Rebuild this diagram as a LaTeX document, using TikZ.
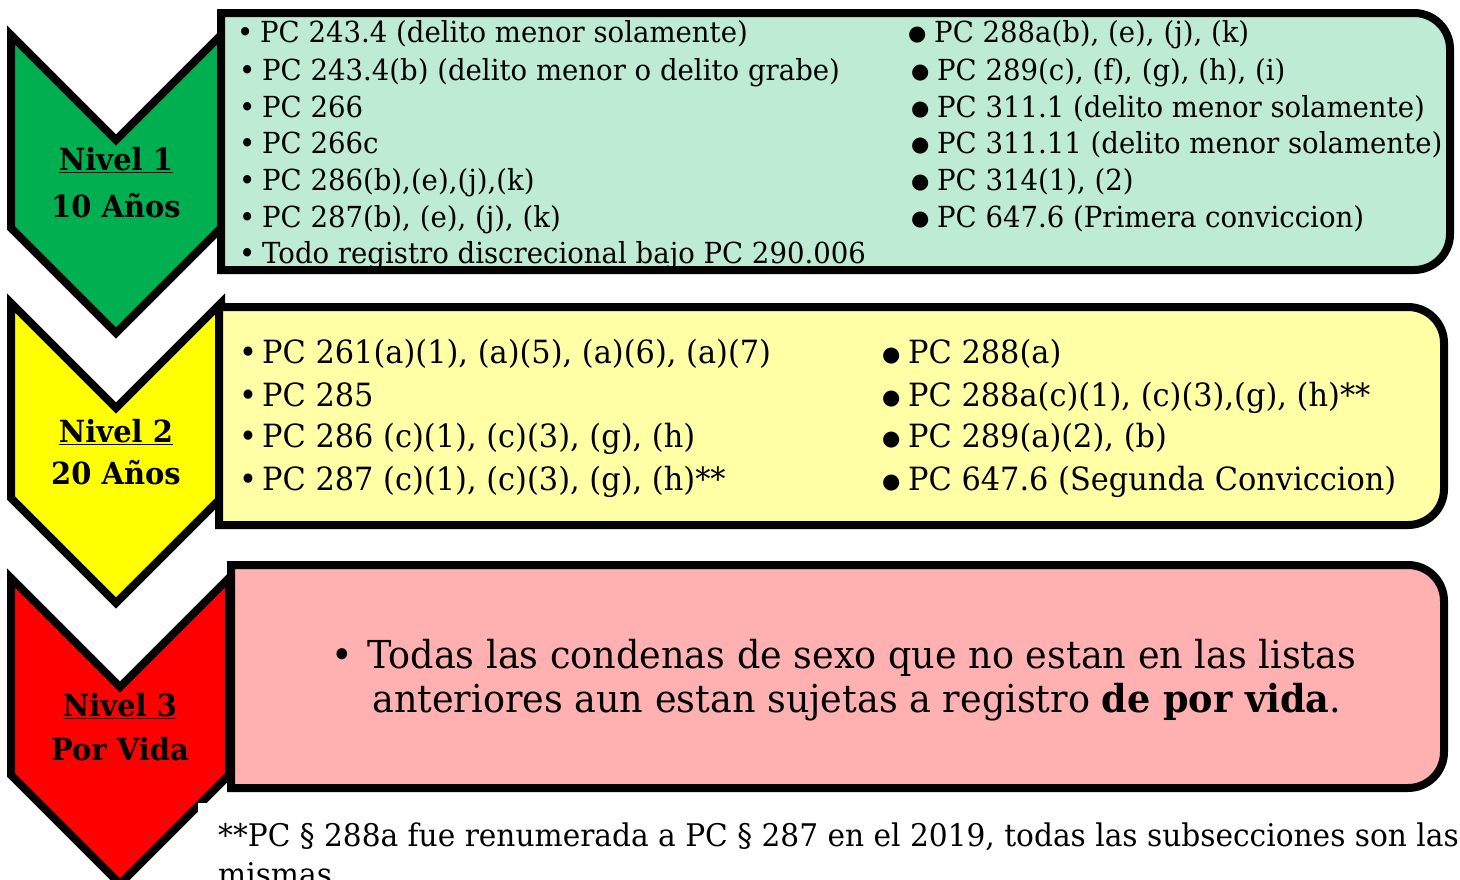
\documentclass[tikz,border=0pt]{standalone}
\usepackage{fontspec}
\setmainfont[FakeStretch=0.95]{DejaVu Serif}
\newfontfamily\bulletfont{DejaVu Sans}
\definecolor{gdark}{HTML}{00B050}
\definecolor{glight}{HTML}{BDEBD3}
\definecolor{ydark}{HTML}{FFFF00}
\definecolor{ylight}{HTML}{FFFFA5}
\definecolor{rdark}{HTML}{FF0000}
\definecolor{rlight}{HTML}{FFB0B0}
\newcommand{\bA}{\makebox[23pt][l]{•}}
\newcommand{\bB}{\makebox[26pt][l]{\raisebox{1.5pt}{\bulletfont\fontsize{21}{21}\selectfont ●}}}
\begin{document}
\begin{tikzpicture}[x=1pt,y=-1pt,line join=miter,
  chev/.style={draw=black,line width=8pt,miter limit=10},
  boxs/.style={draw=black,line width=8pt},
  txt/.style={anchor=base west,inner sep=0pt,font=\fontsize{29}{34}\selectfont},
  ytxt/.style={anchor=base west,inner sep=0pt,font=\fontsize{32}{36}\selectfont},
  big/.style={anchor=base west,inner sep=0pt,font=\fontsize{38.5}{44}\selectfont},
  foot/.style={anchor=base west,inner sep=0pt,font=\fontsize{31.2}{36}\selectfont},
  lbl/.style={anchor=base,inner sep=0pt,font=\fontsize{30.5}{34}\selectfont\bfseries}]
\useasboundingbox (0,0) rectangle (1460,879);
\fill[white] (0,0) rectangle (1460,879);
% chevrons
\draw[chev,fill=gdark] (11,35) -- (116,140) -- (221,35) -- (221,228) -- (116,333) -- (11,228) -- cycle;
\draw[chev,fill=ydark] (11,303) -- (116,408) -- (221,303) -- (221,498) -- (116,603) -- (11,498) -- cycle;
\draw[chev,fill=rdark] (11,578) -- (120,687) -- (229,578) -- (229,775) -- (120,884) -- (11,775) -- cycle;
% boxes
\draw[boxs,fill=glight] (221,13) -- (1414,13) arc[start angle=-90,end angle=0,radius=36] -- (1450,234) arc[start angle=0,end angle=90,radius=36] -- (221,270) -- cycle;
\draw[boxs,fill=ylight] (219,307) -- (1408,307) arc[start angle=-90,end angle=0,radius=36] -- (1444,489) arc[start angle=0,end angle=90,radius=36] -- (219,525) -- cycle;
\draw[boxs,fill=rlight] (231,565) -- (1408,565) arc[start angle=-90,end angle=0,radius=36] -- (1444,752) arc[start angle=0,end angle=90,radius=36] -- (231,788) -- cycle;
% labels
\node[lbl] (n1) at (116,170) {\underline{Nivel 1}};
\node[lbl] (a1) at (116,217) {10 Años};
\node[lbl] (n2) at (116,442) {\underline{Nivel 2}};
\node[lbl] (a2) at (116,484) {20 Años};
\node[lbl] (n3) at (120,716) {\underline{Nivel 3}};
\node[lbl] (a3) at (120,760) {Por Vida};
% green column 1
\node[txt] (g11) at (237,42) {\bA PC 243.4 (delito menor solamente)};
\node[txt] (g12) at (239,80) {\bA PC 243.4(b) (delito menor o delito grabe)};
\node[txt] (g13) at (239,117) {\bA PC 266};
\node[txt] (g14) at (239,153) {\bA PC 266c};
\node[txt] (g15) at (239,190) {\bA PC 286(b),(e),(j),(k)};
\node[txt] (g16) at (239,227) {\bA PC 287(b), (e), (j), (k)};
\node[txt] (g17) at (239,263) {\bA Todo registro discrecional bajo PC 290.006};
% green column 2
\node[txt] (g21) at (908,42) {\bB PC 288a(b), (e), (j), (k)};
\node[txt] (g22) at (911,80) {\bB PC 289(c), (f), (g), (h), (i)};
\node[txt] (g23) at (911,117) {\bB PC 311.1 (delito menor solamente)};
\node[txt] (g24) at (911,153) {\bB PC 311.11 (delito menor solamente)};
\node[txt] (g25) at (911,190) {\bB PC 314(1), (2)};
\node[txt] (g26) at (911,227) {\bB PC 647.6 (Primera conviccion)};
% yellow column 1
\node[ytxt] (y11) at (239,363) {\bA PC 261(a)(1), (a)(5), (a)(6), (a)(7)};
\node[ytxt] (y12) at (239,406) {\bA PC 285};
\node[ytxt] (y13) at (239,447) {\bA PC 286 (c)(1), (c)(3), (g), (h)};
\node[ytxt] (y14) at (239,490) {\bA PC 287 (c)(1), (c)(3), (g), (h)**};
% yellow column 2
\node[ytxt] (y21) at (882,363) {\bB PC 288(a)};
\node[ytxt] (y22) at (882,406) {\bB PC 288a(c)(1), (c)(3),(g), (h)**};
\node[ytxt] (y23) at (882,447) {\bB PC 289(a)(2), (b)};
\node[ytxt] (y24) at (882,490) {\bB PC 647.6 (Segunda Conviccion)};
% red
\node[big] (r1) at (331,668) {\makebox[36pt][l]{•}Todas las condenas de sexo que no estan en las listas};
\node[big] (r2) at (372,712) {anteriores aun estan sujetas a registro \textbf{de por vida}.};
% footnote
\fill[white] (198,803) rectangle (1460,879);
\node[foot] (f1) at (218,846) {**PC § 288a fue renumerada a PC § 287 en el 2019, todas las subsecciones son las};
\node[foot] (f2) at (218,885) {mismas.};
\end{tikzpicture}
\end{document}
